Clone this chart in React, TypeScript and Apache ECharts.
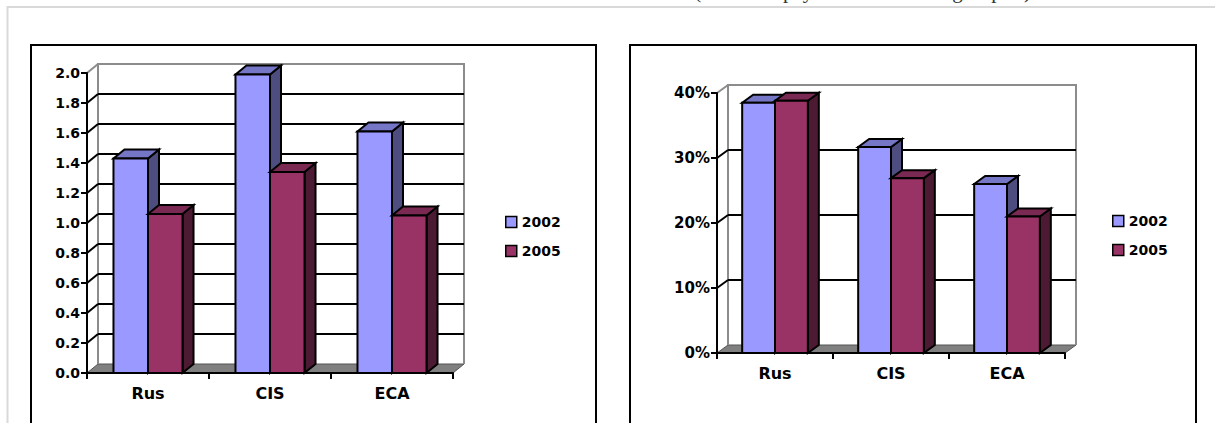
import React, { useEffect, useRef } from "react";
import * as echarts from "echarts";

const categories = ["Rus", "CIS", "ECA"];
const seriesNames = ["2002", "2005"];
const leftValues2002 = [1.43, 1.99, 1.61];
const leftValues2005 = [1.06, 1.34, 1.05];
const rightValues2002 = [0.385, 0.317, 0.26];
const rightValues2005 = [0.388, 0.269, 0.21];
const leftTicks = [0, 0.2, 0.4, 0.6, 0.8, 1.0, 1.2, 1.4, 1.6, 1.8, 2.0];
const rightTicks = [0, 0.1, 0.2, 0.3, 0.4];
const topNote = "(when the payments are the largest part)";

const FRONT = ["#9999FF", "#993366"];
const TOP = ["#7676C6", "#7A2952"];
const SIDE = ["#4D4D80", "#4D1A33"];
const FONT = "DejaVu Sans";
const BAR_FRAC = 0.283;

function sceneSeries(ai: number, dx: number, dy: number) {
  return {
    type: "custom",
    xAxisIndex: ai,
    yAxisIndex: ai,
    z: 1,
    silent: true,
    data: [[0, 0]],
    renderItem: (params: any, api: any) => {
      const cs = params.coordSys;
      const x0 = cs.x, x1 = cs.x + cs.width, yT = cs.y, yB = cs.y + cs.height;
      return {
        type: "group",
        children: [
          {
            type: "polygon",
            shape: { points: [[x0, yB], [x1, yB], [x1 + dx, yB + dy], [x0 + dx, yB + dy]] },
            style: { fill: "#808080", stroke: "#555", lineWidth: 1 },
          },
          {
            type: "polyline",
            shape: { points: [[x0 + dx, yB + dy], [x0 + dx, yT + dy], [x1 + dx, yT + dy], [x1 + dx, yB + dy]] },
            style: { stroke: "#8c8c8c", lineWidth: 2, fill: null },
          },
          {
            type: "line",
            shape: { x1: x0, y1: yT, x2: x0 + dx, y2: yT + dy },
            style: { stroke: "#8c8c8c", lineWidth: 2 },
          },
        ],
      };
    },
  };
}

function gridSeries(ai: number, ticks: number[], dx: number, dy: number) {
  const inner = ticks.slice(1, ticks.length - 1);
  return {
    type: "custom",
    xAxisIndex: ai,
    yAxisIndex: ai,
    z: 1,
    silent: true,
    data: inner.map((t) => [0, t]),
    renderItem: (params: any, api: any) => {
      const cs = params.coordSys;
      const x0 = cs.x, x1 = cs.x + cs.width;
      const y = api.coord([0, api.value(1)])[1];
      return {
        type: "group",
        children: [
          {
            type: "line",
            shape: { x1: x0 + dx, y1: y + dy, x2: x1 + dx, y2: y + dy },
            style: { stroke: "#000", lineWidth: 2 },
          },
          {
            type: "line",
            shape: { x1: x0, y1: y, x2: x0 + dx, y2: y + dy },
            style: { stroke: "#000", lineWidth: 2 },
          },
        ],
      };
    },
  };
}

function barSeries(ai: number, si: number, values: number[], dx: number, dy: number) {
  return {
    type: "custom",
    name: seriesNames[si],
    xAxisIndex: ai,
    yAxisIndex: ai,
    z: 3 + si,
    itemStyle: { color: FRONT[si] },
    data: values.map((v, i) => [i, v]),
    renderItem: (params: any, api: any) => {
      const cat = api.value(0);
      const v = api.value(1);
      const base = api.coord([cat, 0]);
      const top = api.coord([cat, v]);
      const band = api.size([1, 0])[0];
      const bw = band * BAR_FRAC;
      const xa = si === 0 ? base[0] - bw : base[0];
      const xb = xa + bw;
      const yT = top[1];
      const yB = base[1];
      const stroke = { stroke: "#000", lineWidth: 2, lineJoin: "miter" };
      return {
        type: "group",
        children: [
          {
            type: "polygon",
            shape: { points: [[xb, yT], [xb + dx, yT + dy], [xb + dx, yB + dy], [xb, yB]] },
            style: { fill: SIDE[si], ...stroke },
          },
          {
            type: "polygon",
            shape: { points: [[xa, yT], [xa + dx, yT + dy], [xb + dx, yT + dy], [xb, yT]] },
            style: { fill: TOP[si], ...stroke },
          },
          {
            type: "polygon",
            shape: { points: [[xa, yT], [xb, yT], [xb, yB], [xa, yB]] },
            style: { fill: FRONT[si], ...stroke },
          },
        ],
      };
    },
  };
}

function xAxisCfg(gi: number) {
  return {
    gridIndex: gi,
    type: "category",
    data: categories,
    z: 10,
    axisLine: { show: true, lineStyle: { color: "#000", width: 2 } },
    axisTick: { show: true, length: 6, lineStyle: { color: "#000", width: 2 } },
    axisLabel: { margin: 12, fontFamily: FONT, fontWeight: "bold", fontSize: 16, color: "#000" },
    splitLine: { show: false },
  };
}

function yAxisCfg(gi: number, ticks: number[], fmt: (v: number) => string, fs: number) {
  return {
    gridIndex: gi,
    type: "value",
    min: ticks[0],
    max: ticks[ticks.length - 1],
    interval: ticks[1] - ticks[0],
    z: 10,
    axisLine: { show: true, lineStyle: { color: "#000", width: 2 } },
    axisTick: { show: true, length: 6, lineStyle: { color: "#000", width: 2 } },
    axisLabel: { margin: 7, fontFamily: FONT, fontWeight: "bold", fontSize: fs, color: "#000", formatter: fmt },
    splitLine: { show: false },
  };
}

function legendCfg(left: number, top: number) {
  return {
    data: seriesNames,
    orient: "vertical",
    left,
    top,
    icon: "rect",
    itemWidth: 11,
    itemHeight: 11,
    itemGap: 15,
    selectedMode: false,
    itemStyle: { borderColor: "#000", borderWidth: 1.5 },
    textStyle: { fontFamily: FONT, fontWeight: "bold", fontSize: 14, color: "#000" },
  };
}

export default function App() {
  const ref = useRef<HTMLDivElement>(null);
  useEffect(() => {
    if (!ref.current) return;
    const chart = echarts.init(ref.current, undefined, { renderer: "svg" });
    const LDX = 11, LDY = -9, RDX = 11, RDY = -8;
    chart.setOption({
      animation: false,
      backgroundColor: "#fff",
      grid: [
        { left: 87, top: 73, width: 366, height: 300 },
        { left: 717, top: 93, width: 348, height: 260 },
      ],
      xAxis: [xAxisCfg(0), xAxisCfg(1)],
      yAxis: [
        yAxisCfg(0, leftTicks, (v: number) => v.toFixed(1), 14),
        yAxisCfg(1, rightTicks, (v: number) => Math.round(v * 100) + "%", 15),
      ],
      legend: [legendCfg(500, 210), legendCfg(1107, 209)],
      graphic: [
        {
          type: "polyline",
          silent: true,
          shape: { points: [[7.5, 430], [7.5, 7], [1215, 7]] },
          style: { stroke: "#d9d9d9", lineWidth: 2, fill: null },
        },
        {
          type: "rect",
          silent: true,
          shape: { x: 31, y: 45, width: 565, height: 420 },
          style: { stroke: "#000", lineWidth: 2, fill: null },
        },
        {
          type: "rect",
          silent: true,
          shape: { x: 630, y: 45, width: 566, height: 420 },
          style: { stroke: "#000", lineWidth: 2, fill: null },
        },
        {
          type: "text",
          silent: true,
          x: 1031,
          y: -9,
          style: {
            text: topNote,
            fontFamily: "Liberation Serif",
            fontSize: 21,
            fill: "#333",
            align: "right",
            verticalAlign: "middle",
          },
        },
      ],
      series: [
        sceneSeries(0, LDX, LDY),
        gridSeries(0, leftTicks, LDX, LDY),
        barSeries(0, 0, leftValues2002, LDX, LDY),
        barSeries(0, 1, leftValues2005, LDX, LDY),
        sceneSeries(1, RDX, RDY),
        gridSeries(1, rightTicks, RDX, RDY),
        barSeries(1, 0, rightValues2002, RDX, RDY),
        barSeries(1, 1, rightValues2005, RDX, RDY),
      ],
    });
    return () => chart.dispose();
  }, []);
  return (
    <div
      ref={ref}
      style={{ position: "absolute", left: 0, top: 0, width: 1215, height: 423 }}
    />
  );
}
